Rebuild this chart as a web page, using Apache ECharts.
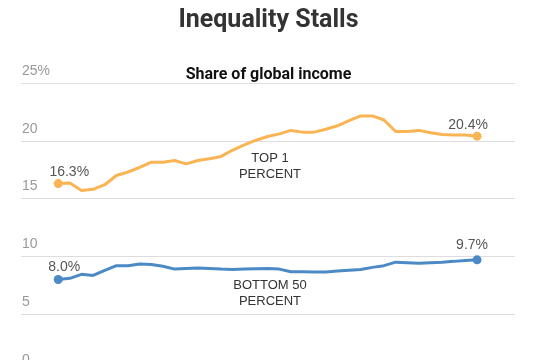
<!DOCTYPE html>
<html>
<head>
<meta charset="utf-8">
<script src="https://cdn.jsdelivr.net/npm/echarts@6/dist/echarts.min.js"></script>
<style>html,body{margin:0;padding:0;background:#fff;overflow:hidden}#c{width:537px;height:384px}</style>
</head>
<body>
<div id="c"></div>
<script>
var years = [1980,1981,1982,1983,1984,1985,1986,1987,1988,1989,1990,1991,1992,1993,1994,1995,1996,1997,1998,1999,2000,2001,2002,2003,2004,2005,2006,2007,2008,2009,2010,2011,2012,2013,2014,2015,2016];
var top1 = [16.3,16.35,15.7,15.8,16.2,17.0,17.3,17.7,18.15,18.15,18.3,18.0,18.3,18.45,18.65,19.2,19.65,20.05,20.37,20.6,20.9,20.75,20.75,21.0,21.3,21.75,22.15,22.15,21.8,20.8,20.8,20.9,20.7,20.55,20.5,20.5,20.4];
var bottom50 = [8.0,8.1,8.45,8.35,8.8,9.2,9.2,9.35,9.3,9.15,8.9,8.95,9.0,8.95,8.9,8.87,8.9,8.93,8.95,8.9,8.67,8.67,8.65,8.65,8.73,8.8,8.87,9.05,9.2,9.5,9.45,9.4,9.45,9.5,9.57,9.65,9.7];
var yTicks = [0,5,10,15,20,25];
var seriesNames = ['TOP 1\nPERCENT','BOTTOM 50\nPERCENT'];

var chart = echarts.init(document.getElementById('c'));
function build(vals, startOff, endOff) {
  var last = vals.length - 1;
  return vals.map(function(v, i) {
    var end = (i === 0 || i === last);
    return {
      value: [years[i], v],
      symbolSize: end ? 9 : 0,
      label: {
        show: end,
        position: 'top',
        offset: i === 0 ? startOff : endOff,
        formatter: v.toFixed(1) + '%',
        color: '#555',
        fontSize: 14,
        fontFamily: 'Liberation Sans, Arial, sans-serif'
      }
    };
  });
}
var labelFont = {color:'#333', fontSize:13, lineHeight:16, fontFamily:'Liberation Sans, Arial, sans-serif'};
chart.setOption({
  animation: false,
  title: [{
    text: 'Inequality Stalls',
    left: 'center', top: 3,
    textStyle: {fontSize: 25, fontWeight: 'bold', color: '#333', fontFamily: 'Roboto, Liberation Sans, sans-serif'}
  },{
    text: 'Share of global income',
    left: 'center', top: 62,
    textStyle: {fontSize: 16, fontWeight: 'bold', color: '#111', fontFamily: 'Roboto, Liberation Sans, sans-serif'}
  }],
  grid: {left: 21, right: 22, top: 83, bottom: 12},
  xAxis: {
    type: 'value', min: 1976.8, max: 2019.26, show: false
  },
  yAxis: {
    type: 'value', min: 0, max: 25, interval: 5,
    axisLine: {show: false}, axisTick: {show: false},
    splitLine: {lineStyle: {color: '#ddd', width: 1}},
    axisLabel: {
      inside: true, margin: 1, verticalAlign: 'bottom', padding: [0,0,5,0],
      color: '#999', fontSize: 14, fontFamily: 'Liberation Sans, Arial, sans-serif',
      formatter: function(v){ return v === yTicks[yTicks.length-1] ? v + '%' : String(v); }
    }
  },
  series: [{
    type: 'line', name: seriesNames[0],
    data: build(top1, [11, 5], [-9, 5]),
    symbol: 'circle', showAllSymbol: true,
    lineStyle: {color: '#fbb454', width: 3},
    itemStyle: {color: '#fbb454'},
    markPoint: {
      symbol: 'circle', symbolSize: 0,
      data: [{coord: [1998.2, 17.8], value: seriesNames[0]}],
      label: Object.assign({show: true, formatter: seriesNames[0]}, labelFont)
    }
  },{
    type: 'line', name: seriesNames[1],
    data: build(bottom50, [6, 4], [-5, 2]),
    symbol: 'circle', showAllSymbol: true,
    lineStyle: {color: '#4b8ac4', width: 3},
    itemStyle: {color: '#4b8ac4'},
    markPoint: {
      symbol: 'circle', symbolSize: 0,
      data: [{coord: [1998.2, 6.8], value: seriesNames[1]}],
      label: Object.assign({show: true, formatter: seriesNames[1]}, labelFont)
    }
  }]
});
</script>
</body>
</html>
